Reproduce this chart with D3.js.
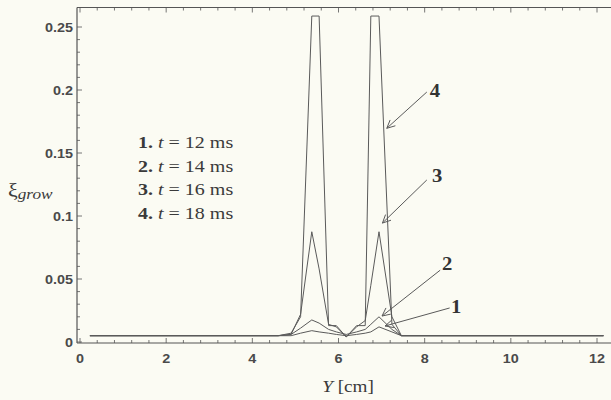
<!DOCTYPE html>
<html>
<head>
<meta charset="utf-8">
<script src="https://cdn.jsdelivr.net/npm/d3@7"></script>
<style>
  body { margin: 0; background: #fbfbf3; }
  svg { display: block; }
</style>
</head>
<body>
<div id="canvas"></div>
<script>
"use strict";

let svgWidth = 611;
let svgHeight = 400;

/* === Data === */
// Y positions [cm] shared by all curves
let yPositions = [0.23, 4.6, 4.9, 5.12, 5.38, 5.55, 5.77, 5.95, 6.18, 6.42, 6.62, 6.75, 6.94, 7.24, 7.46, 12.15];

let growT12 = [0.005, 0.005, 0.005, 0.007, 0.009, 0.008, 0.007, 0.006, 0.005, 0.006, 0.007, 0.008, 0.012, 0.008, 0.005, 0.005];
let growT14 = [0.005, 0.005, 0.006, 0.011, 0.0175, 0.015, 0.010, 0.008, 0.006, 0.008, 0.010, 0.014, 0.020, 0.010, 0.005, 0.005];
let growT16 = [0.005, 0.005, 0.006, 0.022, 0.0875, 0.058, 0.014, 0.012, 0.004, 0.012, 0.017, 0.045, 0.0875, 0.020, 0.005, 0.005];
let growT18 = [0.005, 0.005, 0.007, 0.020, 0.2587, 0.2587, 0.013, 0.013, 0.004, 0.013, 0.013, 0.2587, 0.2587, 0.014, 0.005, 0.005];

let seriesNames = ["1", "2", "3", "4"];
let seriesTimes = [12, 14, 16, 18];

let xTicks = [0, 2, 4, 6, 8, 10, 12];
let yTicks = [0, 0.05, 0.1, 0.15, 0.2, 0.25];
let yTickLabels = ["0", "0.05", "0.1", "0.15", "0.2", "0.25"];

// curve label position, arrow start and arrow tip (data units)
let labelPos = [[8.73, 0.028], [8.52, 0.062], [8.29, 0.132], [8.24, 0.199]];
let arrowFrom = [[8.58, 0.027], [8.36, 0.057], [8.05, 0.1286], [8.05, 0.1984]];
let arrowTo = [[7.08, 0.0127], [7.01, 0.0206], [7.02, 0.0944], [7.12, 0.1696]];

let allSeries = [growT12, growT14, growT16, growT18];

/* === Scales === */
let xScale = d3.scaleLinear().domain([0, 12]).range([80, 597]);
let yScale = d3.scaleLinear().domain([0, 0.25]).range([342, 27]);

let x0 = xScale.invert(77), x1 = xScale.invert(611);
let yTop = yScale.invert(7.5), yBot = yScale.invert(343);

let ink = "#555";
let textInk = "#3a3a3a";

let svg = d3.select("#canvas").append("svg")
  .attr("width", svgWidth)
  .attr("height", svgHeight);

/* === Frame === */
svg.append("line")
  .attr("x1", xScale(x0)).attr("x2", xScale(x1))
  .attr("y1", yScale(yBot)).attr("y2", yScale(yBot))
  .attr("stroke", ink).attr("stroke-width", 1.2);
svg.append("line")
  .attr("x1", xScale(x0)).attr("x2", xScale(x1))
  .attr("y1", yScale(yTop)).attr("y2", yScale(yTop))
  .attr("stroke", ink).attr("stroke-width", 1);
svg.append("line")
  .attr("x1", xScale(x0)).attr("x2", xScale(x0))
  .attr("y1", yScale(yTop)).attr("y2", yScale(yBot))
  .attr("stroke", ink).attr("stroke-width", 1.2);

/* === Ticks (inward, major + minor) === */
let xMinor = d3.range(0, 12.3, 0.4);
let yMinor = d3.range(0, 0.26, 0.01);

xMinor.forEach(v => {
  let major = Math.abs(v / 2 - Math.round(v / 2)) < 1e-6;
  let len = major ? 5 : 3;
  svg.append("line")
    .attr("x1", xScale(v)).attr("x2", xScale(v))
    .attr("y1", yScale(yBot)).attr("y2", yScale(yBot) - len)
    .attr("stroke", ink).attr("stroke-width", 0.8);
  svg.append("line")
    .attr("x1", xScale(v)).attr("x2", xScale(v))
    .attr("y1", yScale(yTop)).attr("y2", yScale(yTop) + len)
    .attr("stroke", ink).attr("stroke-width", 0.8);
});

yMinor.forEach(v => {
  let major = Math.abs(v / 0.05 - Math.round(v / 0.05)) < 1e-6;
  svg.append("line")
    .attr("x1", xScale(x0)).attr("x2", xScale(x0) + (major ? 5 : 3))
    .attr("y1", yScale(v)).attr("y2", yScale(v))
    .attr("stroke", ink).attr("stroke-width", 0.8);
});

/* === Tick labels (scan is stretched sideways, so scale text in x) === */
xTicks.forEach(v => {
  svg.append("text")
    .attr("transform", `translate(${xScale(v)}, 363) scale(1.2, 1)`)
    .attr("text-anchor", "middle")
    .attr("font-family", "Liberation Sans, Arial, sans-serif")
    .attr("font-weight", "bold")
    .attr("font-size", "12px")
    .attr("fill", "#4a4a4a")
    .text(v);
});

yTicks.forEach((v, i) => {
  svg.append("text")
    .attr("transform", `translate(73, ${yScale(v) + 4.5}) scale(1.2, 1)`)
    .attr("text-anchor", "end")
    .attr("font-family", "Liberation Sans, Arial, sans-serif")
    .attr("font-weight", "bold")
    .attr("font-size", "12px")
    .attr("fill", "#4a4a4a")
    .text(yTickLabels[i]);
});

/* === Axis titles === */
let yTitle = svg.append("text")
  .attr("transform", "translate(8, 196) scale(1.15, 1)")
  .attr("font-family", "Liberation Serif, Times New Roman, serif")
  .attr("fill", textInk);
yTitle.append("tspan").attr("font-size", "19px").text("ξ");
yTitle.append("tspan").attr("font-size", "15px").attr("font-style", "italic")
  .attr("dy", 3).text("grow");

let xTitle = svg.append("text")
  .attr("transform", "translate(348, 392) scale(1.2, 1)")
  .attr("text-anchor", "middle")
  .attr("font-family", "Liberation Serif, Times New Roman, serif")
  .attr("font-size", "16px")
  .attr("fill", textInk);
xTitle.append("tspan").attr("font-style", "italic").text("Y");
xTitle.append("tspan").text(" [cm]");

/* === Curves === */
let line = d3.line()
  .x((d, i) => xScale(yPositions[i]))
  .y(d => yScale(d));

svg.selectAll("path.curve")
  .data(allSeries)
  .enter()
  .append("path")
  .classed("curve", true)
  .attr("d", d => line(d))
  .attr("fill", "none")
  .attr("stroke", "#5a5a5a")
  .attr("stroke-width", 1)
  .attr("stroke-linejoin", "miter");

/* === Legend text === */
seriesNames.forEach((n, i) => {
  let t = svg.append("text")
    .attr("transform", `translate(138, ${148 + i * 23.5}) scale(1.25, 1)`)
    .attr("font-family", "Liberation Serif, Times New Roman, serif")
    .attr("font-size", "16px")
    .attr("fill", textInk);
  t.append("tspan").attr("font-weight", "bold").text(`${n}. `);
  t.append("tspan").attr("font-style", "italic").text("t");
  t.append("tspan").text(` = ${seriesTimes[i]} ms`);
});

/* === Curve labels with arrows === */
seriesNames.forEach((n, i) => {
  let [fx, fy] = arrowFrom[i];
  let [tx, ty] = arrowTo[i];
  let x1p = xScale(fx), y1p = yScale(fy), x2p = xScale(tx), y2p = yScale(ty);
  svg.append("line")
    .attr("x1", x1p).attr("y1", y1p).attr("x2", x2p).attr("y2", y2p)
    .attr("stroke", "#5a5a5a").attr("stroke-width", 1);

  let ang = Math.atan2(y1p - y2p, x1p - x2p);
  [-0.45, 0.45].forEach(da => {
    svg.append("line")
      .attr("x1", x2p).attr("y1", y2p)
      .attr("x2", x2p + 9 * Math.cos(ang + da))
      .attr("y2", y2p + 9 * Math.sin(ang + da))
      .attr("stroke", "#5a5a5a").attr("stroke-width", 1);
  });

  svg.append("text")
    .attr("transform", `translate(${xScale(labelPos[i][0])}, ${yScale(labelPos[i][1]) + 6}) scale(1.15, 1)`)
    .attr("text-anchor", "middle")
    .attr("font-family", "Liberation Serif, Times New Roman, serif")
    .attr("font-weight", "bold")
    .attr("font-size", "18px")
    .attr("fill", "#333")
    .text(n);
});
</script>
</body>
</html>
